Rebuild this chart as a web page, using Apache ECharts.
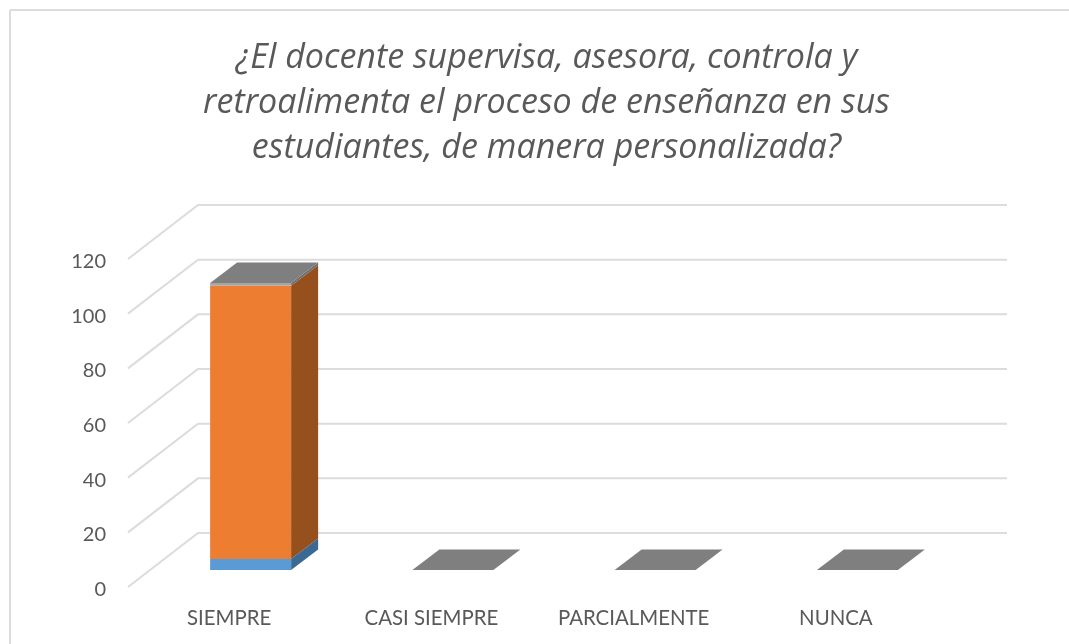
<!DOCTYPE html>
<html>
<head>
<meta charset="utf-8">
<style>
  html, body { margin: 0; padding: 0; background: #fff; }
  #main { width: 1069px; height: 644px; }
</style>
</head>
<body>
<div id="main"></div>
<script src="https://cdn.jsdelivr.net/npm/echarts@6/dist/echarts.min.js"></script>
<script>
var titleText = '¿El docente supervisa, asesora, controla y\nretroalimenta el proceso de enseñanza en sus\nestudiantes, de manera personalizada?'
var categories = ['SIEMPRE', 'CASI SIEMPRE', 'PARCIALMENTE', 'NUNCA']
var yTicks = [0, 20, 40, 60, 80, 100, 120]
var blueValues = [4, 0, 0, 0]
var orangeValues = [100, 0, 0, 0]
var greyValues = [1, 0, 0, 0]

// profundidad de la pared y de la barra, en pixeles
var wallDx = 70
var wallDy = -54
var barShiftX = 21.5
var barShiftY = -17
var barDx = 27
var barDy = -20.5
var barWidth = 81

// lineas de la pared: diagonal + horizontal del fondo
function renderWall (params, api) {
  var p = api.coord([0, api.value(1)])
  var left = p[0] - api.size([1, 0])[0] / 2
  var right = left + api.size([1, 0])[0] * categories.length
  return {
    type: 'polyline',
    shape: { points: [[left, p[1]], [left + wallDx, p[1] + wallDy], [right + wallDx, p[1] + wallDy]] },
    style: { stroke: '#dcdcdc', lineWidth: 2, fill: null }
  }
}

function makeBox (front, side, top) {
  return function (params, api) {
    var idx = api.value(0)
    var lo = api.coord([idx, api.value(1)])
    var hi = api.coord([idx, api.value(2)])
    var x0 = lo[0] + barShiftX - barWidth / 2
    var x1 = x0 + barWidth
    var y0 = lo[1] + barShiftY
    var y1 = hi[1] + barShiftY
    var children = []
    if (y0 - y1 > 0) {
      children.push({ type: 'polygon', shape: { points: [[x0, y0], [x1, y0], [x1, y1], [x0, y1]] }, style: { fill: front } })
      children.push({ type: 'polygon', shape: { points: [[x1, y0], [x1 + barDx, y0 + barDy], [x1 + barDx, y1 + barDy], [x1, y1]] }, style: { fill: side } })
    }
    if (top) {
      children.push({ type: 'polygon', shape: { points: [[x0, y1], [x1, y1], [x1 + barDx, y1 + barDy], [x0 + barDx, y1 + barDy]] }, style: { fill: top } })
    }
    return { type: 'group', children: children }
  }
}

function stackData (values, below) {
  return values.map(function (v, i) {
    var base = below.reduce(function (s, arr) { return s + arr[i] }, 0)
    return [i, base, base + v]
  })
}

var myChart = echarts.init(document.getElementById('main'), null, { renderer: 'canvas' })
var option = {
  backgroundColor: '#fff',
  animation: false,
  title: {
    text: titleText,
    left: 541.5,
    top: 31,
    textAlign: 'center',
    textStyle: {
      fontFamily: 'Open Sans',
      fontStyle: 'italic',
      fontWeight: 'normal',
      fontSize: 34,
      lineHeight: 45,
      color: '#595959'
    }
  },
  grid: { left: 128, right: 132, top: 259, bottom: 57, containLabel: false },
  xAxis: {
    type: 'category',
    data: categories,
    axisLine: { show: false },
    axisTick: { show: false },
    axisLabel: { margin: 21, fontFamily: 'Lato', fontSize: 20.4, color: '#595959' }
  },
  yAxis: {
    type: 'value',
    min: 0,
    max: 120,
    interval: 20,
    axisLine: { show: false },
    axisTick: { show: false },
    splitLine: { show: false },
    axisLabel: {
      margin: 22,
      formatter: '{t|{value}}',
      rich: { t: { padding: [5, 0, 0, 0], fontFamily: 'Lato', fontSize: 20, color: '#595959' } }
    }
  },
  series: [
    {
      type: 'custom',
      renderItem: renderWall,
      data: yTicks.map(function (t) { return [0, t] }),
      silent: true,
      z: 1
    },
    {
      type: 'custom',
      renderItem: makeBox('#5b9bd5', '#3a6a94', null),
      data: stackData(blueValues, []),
      z: 2
    },
    {
      type: 'custom',
      renderItem: makeBox('#ed7d31', '#96501d', null),
      data: stackData(orangeValues, [blueValues]),
      z: 3
    },
    {
      type: 'custom',
      renderItem: makeBox('#a5a5a5', '#6f6f6f', '#7f7f7f'),
      data: stackData(greyValues, [blueValues, orangeValues]),
      z: 4
    }
  ],
  graphic: [
    // marco: solo arriba e izquierda quedan dentro de la imagen
    { type: 'line', shape: { x1: 10, y1: 10, x2: 1069, y2: 10 }, style: { stroke: '#dcdcdc', lineWidth: 2 }, silent: true },
    { type: 'line', shape: { x1: 10, y1: 10, x2: 10, y2: 644 }, style: { stroke: '#dcdcdc', lineWidth: 2 }, silent: true }
  ]
}
myChart.setOption(option)
</script>
</body>
</html>
